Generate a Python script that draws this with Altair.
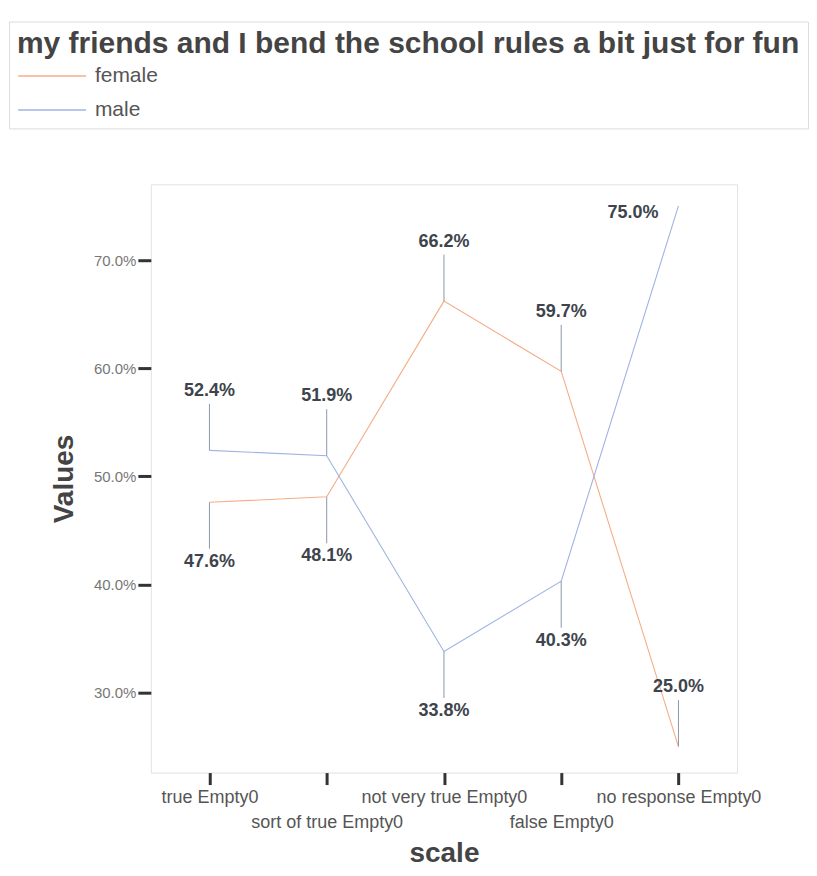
import altair as alt
import pandas as pd

# ---- data ----
categories = ["true Empty0", "sort of true Empty0", "not very true Empty0",
              "false Empty0", "no response Empty0"]
series = ["female", "male"]
female = [0.476, 0.481, 0.662, 0.597, 0.250]
male = [0.524, 0.519, 0.338, 0.403, 0.750]
y_ticks = [0.3, 0.4, 0.5, 0.6, 0.7]
y_domain = [0.226, 0.770]
chart_title = "my friends and I bend the school rules a bit just for fun"
colors = ["#f4ae88", "#a0b4e2"]

rows = []
for s, vals in zip(series, [female, male]):
    for c, v in zip(categories, vals):
        rows.append({"scale": c, "gender": s, "value": v})
df = pd.DataFrame(rows)

FONT = "Liberation Sans"
lo, hi = y_domain
off = 0.055

x_enc = alt.X(
    "scale:N", sort=categories,
    scale=alt.Scale(type="point", padding=0.5),
    axis=alt.Axis(
        title="scale", titleFontSize=28, titleFontWeight="bold", titleColor="#444",
        titleFont=FONT, titlePadding=8,
        labelFont=FONT, labelFontSize=18, labelColor="#555", labelPadding=4,
        labelAngle=0, labelOverlap=False, labelBaseline="top", labelLineHeight=25,
        labelExpr="round(datum.index*4) % 2 == 1 ? ['', datum.label] : datum.label",
        tickSize=12, tickWidth=3, tickColor="#333", domain=False, grid=False,
    ),
)
y_scale = alt.Scale(domain=y_domain, nice=False, zero=False)
y_axis = alt.Axis(
    title="Values", titleFontSize=28, titleFontWeight="bold", titleColor="#444",
    titleFont=FONT, titlePadding=15,
    values=y_ticks, format=".1%", labelFont=FONT, labelFontSize=15,
    labelColor="#777", labelPadding=2,
    tickSize=13, tickWidth=3, tickColor="#333", domain=False, grid=False,
)

base = alt.Chart(df)

lines = base.mark_line(strokeWidth=1.1).encode(
    x=x_enc,
    y=alt.Y("value:Q", scale=y_scale, axis=y_axis),
    color=alt.Color(
        "gender:N",
        scale=alt.Scale(domain=series, range=colors),
        legend=alt.Legend(
            title=chart_title, orient="none", legendX=-142, legendY=-163,
            direction="vertical",
            titleFont=FONT, titleFontSize=30, titleFontWeight="bold",
            titleColor="#444", titleLimit=1500, titlePadding=4,
            labelFont=FONT, labelFontSize=21, labelColor="#555", labelLimit=400,
            labelOffset=53, symbolType="M-1,0H5", symbolSize=514,
            symbolStrokeWidth=1.5, rowPadding=11,
            strokeColor="#dcdcdc", fillColor="white", padding=8,
        ),
    ),
)

labelled = base.transform_joinaggregate(
    top="max(value)", groupby=["scale"]
).transform_calculate(
    up="datum.value == datum.top ? 1 : -1"
).transform_calculate(
    side=f"(datum.up == 1 && datum.value + {off} > {hi}) ? 1 : 0",
    dirn=f"(datum.up == -1 && datum.value - {off} < {lo}) ? 1 : datum.up",
).transform_calculate(
    lab=f"datum.value + datum.dirn*{off}",
    lead=f"datum.value + datum.dirn*{off - 0.012}",
)

normal = labelled.transform_filter("datum.side == 0")
edge = labelled.transform_filter("datum.side == 1")

leaders = normal.mark_rule(color="#8d98a9", strokeWidth=1).encode(
    x=alt.X("scale:N", sort=categories), y="value:Q", y2="lead:Q"
)

texts = normal.mark_text(
    font=FONT, fontSize=18, fontWeight="bold", color="#3d444c", baseline="middle"
).encode(
    x=alt.X("scale:N", sort=categories),
    y="lab:Q",
    text=alt.Text("value:Q", format=".1%"),
)

edge_texts = edge.mark_text(
    font=FONT, fontSize=18, fontWeight="bold", color="#3d444c", baseline="middle",
    align="right", dx=-20, dy=7,
).encode(
    x=alt.X("scale:N", sort=categories),
    y="value:Q",
    text=alt.Text("value:Q", format=".1%"),
)

chart = alt.layer(lines, leaders, texts, edge_texts).properties(
    width=587, height=589,
    padding={"left": 0, "top": 12, "right": 0, "bottom": 0},
).configure_view(stroke="#e2e2e2", strokeWidth=1)

chart.save("out.html", embed_options={"renderer": "svg", "actions": False})
